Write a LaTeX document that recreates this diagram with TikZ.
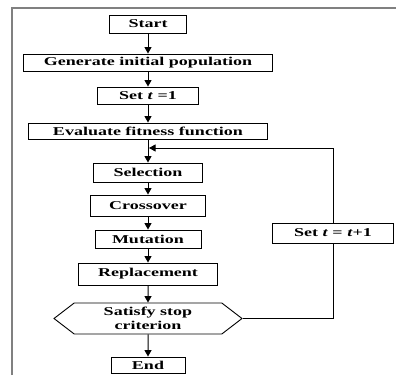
\documentclass[tikz,border=0pt]{standalone}
\usepackage{fontspec}
\setmainfont{Liberation Serif}[FakeStretch=1.5]
\usetikzlibrary{arrows.meta,shapes.symbols}
\begin{document}
\begin{tikzpicture}[
  x=1pt, y=-1pt,
  box/.style={
    draw,
    line width=0.9pt,
    inner sep=0pt,
    minimum height=18pt,
    align=center,
    font=\fontsize{12}{13.5}\selectfont\bfseries
  },
  flow/.style={-{Triangle[length=6.5pt,width=7pt]}, line width=1pt}
]
\useasboundingbox (0,0) rectangle (396,375);
\draw[gray, line width=1.2pt] (12,375) -- (12,8) -- (396,8);
\node[box, minimum width=77pt] (start) at (148,24) {Start};
\node[box, minimum width=249pt, minimum height=17pt] (gen) at (148,62.5) {Generate initial population};
\node[box, minimum width=101pt, minimum height=17pt] (set) at (148,95.5) {Set \textit{t} =1};
\node[box, minimum width=239pt, minimum height=16pt] (eval) at (148,131) {Evaluate fitness function};
\node[box, minimum width=109pt, minimum height=19pt] (sel) at (148,172.5) {Selection};
\node[box, minimum width=115pt, minimum height=21pt] (cross) at (148,205.5) {Crossover};
\node[box, minimum width=106pt] (mut) at (148,239) {Mutation};
\node[box, minimum width=139pt, minimum height=22pt] (repl) at (148,274) {Replacement};
\node[box, signal, signal to=west and east, signal pointer angle=75,
  minimum width=188pt, minimum height=31pt] (stop) at (148,318.5) {Satisfy stop\\criterion};
\node[box, minimum width=74pt, minimum height=16pt] (end) at (148,365) {End};
\node[box, minimum width=121pt, minimum height=20pt] (inc) at (333,233) {Set \textit{t} = \textit{t}+1};
\coordinate (join) at (149,148);
\draw[flow] (start) -- (gen);
\draw[flow] (gen) -- (set);
\draw[flow] (set) -- (eval);
\draw[flow] (eval) -- (sel);
\draw[flow] (sel) -- (cross);
\draw[flow] (cross) -- (mut);
\draw[flow] (mut) -- (repl);
\draw[flow] (repl) -- (stop);
\draw[flow] (stop) -- (end);
\draw[line width=1pt] (stop.east) -| (inc.south);
\draw[flow] (inc.north) |- (join);
\end{tikzpicture}
\end{document}
